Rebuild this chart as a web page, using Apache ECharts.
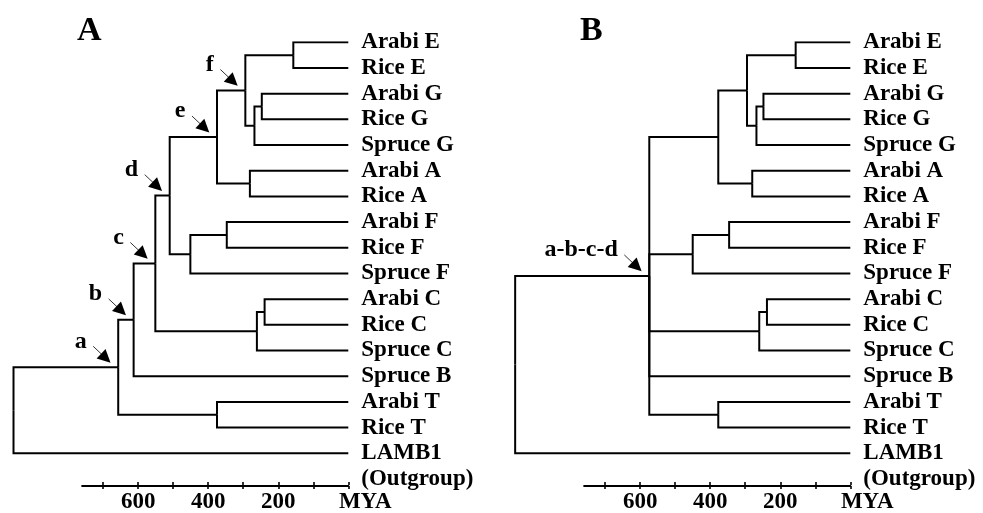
<!DOCTYPE html>
<html><head><meta charset="utf-8">
<script src="https://cdn.jsdelivr.net/npm/echarts@6/dist/echarts.min.js"></script>
<style>html,body{margin:0;padding:0;background:#fff}#c{width:983px;height:513px}</style>
</head><body><div id="c"></div>
<script>
// ---------------- data ----------------
const leafNames = ['Arabi E','Rice E','Arabi G','Rice G','Spruce G','Arabi A','Rice A','Arabi F','Rice F','Spruce F','Arabi C','Rice C','Spruce C','Spruce B','Arabi T','Rice T','LAMB1'];
const outgroupNote = '(Outgroup)';
const panelTitles = ['A','B'];

// Panel A tree: internal nodes, their ages (MYA) and children (leaf index or node name)
const nodeNamesA = ['EE','GG','GGS','f','AA','e','FF','FFS','d','CC','CCS','c','b','TT','a','root'];
const nodeAgesA  = [157, 247, 268, 294, 281, 375, 347, 451, 510, 239, 261, 551, 613, 375, 657, 956];
const nodeChildrenA = [[0,1],[2,3],['GG',4],['EE','GGS'],[5,6],['f','AA'],[7,8],['FF',9],['e','FFS'],[10,11],['CC',12],['d','CCS'],['c',13],[14,15],['b','TT'],['a',16]];
const annotNodesA  = ['a','b','c','d','e','f'];
const annotLabelsA = ['a','b','c','d','e','f'];

// Panel B tree (a-b-c-d collapsed into one node)
const nodeNamesB = ['EE','GG','GGS','f','AA','e','FF','FFS','CC','CCS','TT','abcd','root'];
const nodeAgesB  = [156, 248, 268, 295, 280, 377, 346, 450, 238, 260, 377, 574, 957];
const nodeChildrenB = [[0,1],[2,3],['GG',4],['EE','GGS'],[5,6],['f','AA'],[7,8],['FF',9],[10,11],['CC',12],[14,15],['e','FFS','CCS',13,'TT'],['abcd',16]];
const annotNodesB  = ['abcd'];
const annotLabelsB = ['a-b-c-d'];

// time scale bar
const scaleTickValues  = [0,100,200,300,400,500,600,700];
const scaleLabelValues = [600,400,200];
const scaleUnit = 'MYA';

// ---------------- layout ----------------
const FONT = "'Liberation Serif','Times New Roman',serif";
const PX_PER_MYA = 0.3502;
const ZERO_X = [348.3, 850.3];
const LEAF_TOP = 42.3, LEAF_BOTTOM = 453.3;
const TREE_MAX = 980, SCALE_MAX = 760, AXIS_Y = 486;
const PX_PER_ROW = (LEAF_BOTTOM - LEAF_TOP) / (leafNames.length - 1);
const rowLabels = leafNames.concat([outgroupNote]); // note sits one row below LAMB1

function buildTree(names, ages, children) {
  const idx = {}; names.forEach((n, i) => idx[n] = i);
  const yMemo = {};
  const nodeY = ref => {
    if (typeof ref === 'number') return ref;
    if (yMemo[ref] !== undefined) return yMemo[ref];
    const ch = children[idx[ref]];
    return (yMemo[ref] = (nodeY(ch[0]) + nodeY(ch[ch.length - 1])) / 2);
  };
  const ageOf = ref => typeof ref === 'number' ? 0 : ages[idx[ref]];
  const segs = [];
  names.forEach((n, i) => {
    const x = ages[i], y = nodeY(n);
    children[i].forEach(c => {
      const cy = nodeY(c);
      segs.push({ coords: [[x, y], [x, cy], [ageOf(c), cy]] });
    });
  });
  return { segs, nodeY, ageOf };
}

function arrows(tree, nodes, labels) {
  // offsets in px relative to node (left = +MYA, up = -row)
  const startPx = [-25, -21], headPx = [-12.4, -9.1];
  return nodes.map((n, i) => {
    const X = tree.ageOf(n), Y = tree.nodeY(n);
    return {
      name: labels[i],
      coords: [
        [X - startPx[0] / PX_PER_MYA, Y + startPx[1] / PX_PER_ROW],
        [X - headPx[0] / PX_PER_MYA, Y + headPx[1] / PX_PER_ROW]
      ]
    };
  });
}

const trees = [
  buildTree(nodeNamesA, nodeAgesA, nodeChildrenA),
  buildTree(nodeNamesB, nodeAgesB, nodeChildrenB)
];
const arrowData = [
  arrows(trees[0], annotNodesA, annotLabelsA),
  arrows(trees[1], annotNodesB, annotLabelsB)
];

const grids = [], xAxes = [], yAxes = [], series = [];
const labelText = { color: '#000', fontFamily: FONT, fontWeight: 'bold', fontSize: 23 };

[0, 1].forEach(p => {
  const z = ZERO_X[p];
  // tree grid
  grids.push({ left: z - PX_PER_MYA * TREE_MAX, width: PX_PER_MYA * TREE_MAX, top: LEAF_TOP, height: PX_PER_ROW * (rowLabels.length - 1), outerBoundsMode: 'none', containLabel: false });
  const tg = grids.length - 1;
  xAxes.push({ gridIndex: tg, type: 'value', inverse: true, min: 0, max: TREE_MAX, show: false });
  const tx = xAxes.length - 1;
  yAxes.push({
    gridIndex: tg, type: 'value', inverse: true, min: 0, max: rowLabels.length - 1, interval: 1, position: 'right',
    axisLine: { show: false }, axisTick: { show: false }, splitLine: { show: false },
    axisLabel: Object.assign({}, labelText, {
      margin: 13, showMinLabel: true, showMaxLabel: true, hideOverlap: false,
      formatter: v => rowLabels[v]
    })
  });
  const ty = yAxes.length - 1;
  series.push({
    type: 'lines', coordinateSystem: 'cartesian2d', xAxisIndex: tx, yAxisIndex: ty,
    polyline: true, silent: true, animation: false,
    lineStyle: { color: '#000', width: 2, opacity: 1, join: 'miter', cap: 'butt' },
    data: trees[p].segs
  });
  series.push({
    type: 'lines', coordinateSystem: 'cartesian2d', xAxisIndex: tx, yAxisIndex: ty,
    silent: true, animation: false,
    symbol: ['none', 'triangle'], symbolSize: [10, 13],
    lineStyle: { color: '#000', width: 0.8, opacity: 1 },
    label: Object.assign({}, labelText, { fontSize: 24, show: true, position: 'start', formatter: '{b}', align: 'right', verticalAlign: 'middle', distance: [9, 7] }),
    data: arrowData[p]
  });

  // scale bar grid
  grids.push({ left: z - PX_PER_MYA * SCALE_MAX, width: PX_PER_MYA * SCALE_MAX, top: AXIS_Y - 1, height: 1, outerBoundsMode: 'none', containLabel: false });
  const sg = grids.length - 1;
  xAxes.push({
    gridIndex: sg, type: 'value', inverse: true, min: 0, max: SCALE_MAX, position: 'bottom',
    axisLine: { show: true, lineStyle: { color: '#000', width: 2 } },
    axisTick: { show: true, length: 3, lineStyle: { color: '#000', width: 1.6 }, customValues: scaleTickValues },
    splitLine: { show: false },
    axisLabel: Object.assign({}, labelText, {
      margin: 5, showMinLabel: true, showMaxLabel: true,
      customValues: scaleLabelValues.concat([0]),
      formatter: v => v === 0 ? '{m|' + scaleUnit + '}' : String(v),
      rich: { m: Object.assign({}, labelText, { padding: [0, 0, 0, 34] }) }
    })
  });
  xAxes.push({
    gridIndex: sg, type: 'value', inverse: true, min: 0, max: SCALE_MAX, position: 'top',
    axisLine: { show: false },
    axisTick: { show: true, length: 3, lineStyle: { color: '#000', width: 1.6 }, customValues: scaleTickValues },
    axisLabel: { show: false }, splitLine: { show: false }
  });
  yAxes.push({ gridIndex: sg, type: 'value', show: false });
});

const chart = echarts.init(document.getElementById('c'), null, { renderer: 'canvas' });
chart.setOption({
  backgroundColor: '#fff',
  animation: false,
  title: panelTitles.map((t, i) => ({
    text: t, left: i === 0 ? 77 : 580, top: 14, padding: 0,
    textStyle: { color: '#000', fontFamily: FONT, fontWeight: 'bold', fontSize: 34 }
  })),
  grid: grids, xAxis: xAxes, yAxis: yAxes, series: series
});
</script></body></html>
